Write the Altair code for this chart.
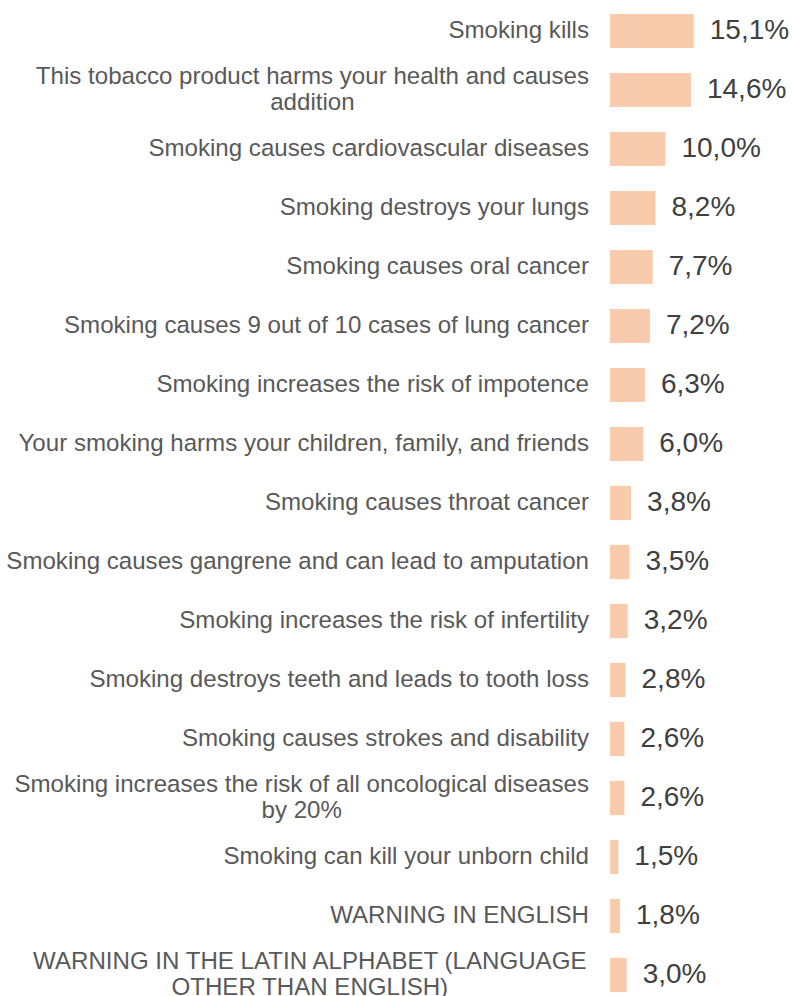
import altair as alt
import pandas as pd

categories = [
    "Smoking kills",
    "This tobacco product harms your health and causes\naddition",
    "Smoking causes cardiovascular diseases",
    "Smoking destroys your lungs",
    "Smoking causes oral cancer",
    "Smoking causes 9 out of 10 cases of lung cancer",
    "Smoking increases the risk of impotence",
    "Your smoking harms your children, family, and friends",
    "Smoking causes throat cancer",
    "Smoking causes gangrene and can lead to amputation",
    "Smoking increases the risk of infertility",
    "Smoking destroys teeth and leads to tooth loss",
    "Smoking causes strokes and disability",
    "Smoking increases the risk of all oncological diseases\nby 20%",
    "Smoking can kill your unborn child",
    "WARNING IN ENGLISH",
    "WARNING IN THE LATIN ALPHABET (LANGUAGE\nOTHER THAN ENGLISH)",
]
values = [15.1, 14.6, 10.0, 8.2, 7.7, 7.2, 6.3, 6.0, 3.8, 3.5, 3.2, 2.8, 2.6, 2.6, 1.5, 1.8, 3.0]

df = pd.DataFrame({"cat": categories, "val": values})
df["lab"] = [f"{v:.1f}".replace(".", ",") + "%" for v in values]

# Arial / Liberation Sans advance widths (per 1000 em), used to centre wrapped labels
_W = {" ": 278, "(": 333, ")": 333, "%": 889, ",": 278, ".": 278}
_W.update({d: 556 for d in "0123456789"})
_W.update(dict(zip("ABCDEFGHIJKLMNOPQRSTUVWXYZ",
                   [667, 667, 722, 722, 667, 611, 778, 722, 278, 500, 667, 556, 833,
                    722, 778, 667, 778, 722, 667, 611, 722, 667, 944, 667, 667, 611])))
_W.update(dict(zip("abcdefghijklmnopqrstuvwxyz",
                   [556, 556, 500, 556, 556, 278, 556, 556, 222, 222, 500, 222, 833,
                    556, 556, 556, 556, 333, 500, 278, 556, 500, 722, 500, 500, 500])))

LABEL_FS = 24.1
LABEL_PAD = 21
LINE_H = 26
BAND_HALF = 17


def text_width(s):
    return sum(_W.get(ch, 556) for ch in s) * LABEL_FS / 1000


single_rows, multi_rows = [], []
for c in categories:
    lines = c.split("\n")
    n = len(lines)
    if n == 1:
        single_rows.append({"cat": c, "line": c, "off": BAND_HALF})
    else:
        w = max(text_width(ln) for ln in lines)
        for i, ln in enumerate(lines):
            multi_rows.append({
                "cat": c, "line": ln,
                "off": BAND_HALF + (i - (n - 1) / 2) * LINE_H,
                "xo": -LABEL_PAD - w / 2,
            })
single_df = pd.DataFrame(single_rows)
multi_df = pd.DataFrame(multi_rows)

FONT = "Liberation Sans, Arial, sans-serif"

y = alt.Y(
    "cat:N",
    sort=categories,
    scale=alt.Scale(paddingInner=0.42, paddingOuter=0.21),
    axis=None,
)
x = alt.X("val:Q", scale=alt.Scale(domain=[0, 33]), axis=None)

bars = alt.Chart(df).mark_bar(color="#F8CBAD").encode(x=x, y=y)
texts = alt.Chart(df).mark_text(
    align="left", baseline="middle", dx=16, font=FONT, fontSize=28, color="#404040"
).encode(x=x, y=y, text="lab:N")
single_labels = alt.Chart(single_df).mark_text(
    align="right", baseline="middle", font=FONT, fontSize=LABEL_FS, color="#595959"
).encode(
    x=alt.value(-LABEL_PAD),
    y=y,
    yOffset=alt.YOffset("off:Q", scale=None),
    text="line:N",
)
multi_labels = alt.Chart(multi_df).mark_text(
    align="center", baseline="middle", font=FONT, fontSize=LABEL_FS, color="#595959"
).encode(
    x=alt.value(0),
    xOffset=alt.XOffset("xo:Q", scale=None),
    y=y,
    yOffset=alt.YOffset("off:Q", scale=None),
    text="line:N",
)

chart = (bars + texts + single_labels + multi_labels).properties(
    width=183, height=1003,
    background="white",
    autosize=alt.AutoSizeParams(type="none"),
    padding={"left": 610, "top": 1.5, "right": 0, "bottom": 0},
).configure_view(stroke=None)

chart.save("out.html", embed_options={"renderer": "svg", "actions": False})
